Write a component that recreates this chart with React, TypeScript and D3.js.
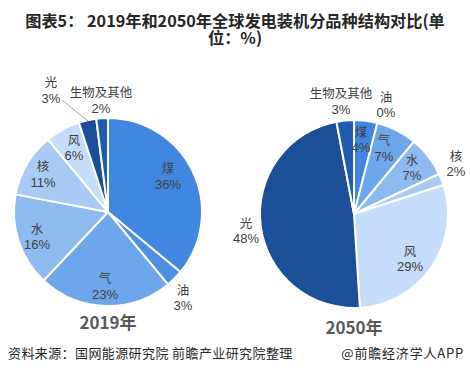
import React from "react";
import * as d3 from "d3";

const categories = ["煤", "油", "气", "水", "核", "风", "光", "生物及其他"];
const values2019 = [36, 3, 23, 16, 11, 6, 3, 2];
const values2050 = [4, 0, 7, 7, 2, 29, 48, 3];
const years = ["2019年", "2050年"];
const titleLines = ["图表5： 2019年和2050年全球发电装机分品种结构对比(单", "位：%)"];
const colors = ["#4186e1", "#4d8fe3", "#6ea6ec", "#8dbbf0", "#a8caf4", "#c5ddf8", "#1b4f98", "#1f5bb0"];

// label layout (offsets from pie centre) – presentation only
const labelPos2019: [number, number][] = [
  [60, -36], [75, 85.5], [-3, 74], [-71, 24.5], [-65, -38], [-34, -64.5], [-57, -122], [-7, -112],
];
const labelPos2050: [number, number][] = [
  [7, -74.5], [32, -109.5], [30, -66], [58, -46.5], [102, -50.5], [56, 44.5], [-108, 16.5], [-13, -113],
];

const W = 470;
const H = 382;
const R = 94;

function Pie({ cx, cy, values, labels, year, yearY, leader }: {
  cx: number; cy: number; values: number[]; labels: [number, number][]; year: string; yearY: number;
  leader?: { from: [number, number]; to: [number, number] };
}) {
  const pie = d3.pie<number>().sort(null).value((d) => d);
  const arcs = pie(values);
  const arc = d3.arc<d3.PieArcDatum<number>>().innerRadius(0).outerRadius(R);
  return (
    <g>
      <g transform={`translate(${cx},${cy})`}>
        {arcs.map((a, i) =>
          a.value > 0 ? (
            <path key={i} d={arc(a) || ""} fill={colors[i]} stroke="#fff" strokeWidth={2} strokeLinejoin="round" />
          ) : null
        )}
        {leader && (
          <line x1={leader.from[0]} y1={leader.from[1]} x2={leader.to[0]} y2={leader.to[1]} stroke="#a6a6a6" strokeWidth={1} />
        )}
        {categories.map((c, i) => (
          <g key={c} fontSize={12.5} fill="#404040" textAnchor="middle">
            <text x={labels[i][0]} y={labels[i][1] - 3}>{c}</text>
            <text x={labels[i][0]} y={labels[i][1] + 12.5} fontFamily="'Liberation Sans', Arial, sans-serif" fontSize={13}>{`${values[i]}%`}</text>
          </g>
        ))}
      </g>
      <text x={cx} y={yearY} textAnchor="middle" fontSize={17} fontWeight="bold" fill="#595959">{year}</text>
    </g>
  );
}

export default function App() {
  return (
    <svg width={W} height={H} viewBox={`0 0 ${W} ${H}`} style={{ position: "absolute", left: 0, top: 0, background: "#fff" }}
      fontFamily="'Noto Sans CJK SC', 'Noto Sans', sans-serif">
      <rect width={W} height={H} fill="#fff" />
      <text textAnchor="middle" fontSize={16.2} fontWeight="bold" fill="#262626">
        <tspan x={235} y={27}>{titleLines[0]}</tspan>
        <tspan x={235} y={43.5}>{titleLines[1]}</tspan>
      </text>
      <Pie cx={108} cy={212} values={values2019} labels={labelPos2019} year={years[0]} yearY={329}
        leader={{ from: [-46, -112], to: [-20, -91] }} />
      <Pie cx={354} cy={214} values={values2050} labels={labelPos2050} year={years[1]} yearY={334} />
      <text x={8} y={358} fontSize={13} fill="#262626" letterSpacing={0.4}>资料来源：国网能源研究院 前瞻产业研究院整理</text>
      <text x={464} y={358} fontSize={13} fill="#262626" textAnchor="end" letterSpacing={0.8}>@前瞻经济学人APP</text>
    </svg>
  );
}
